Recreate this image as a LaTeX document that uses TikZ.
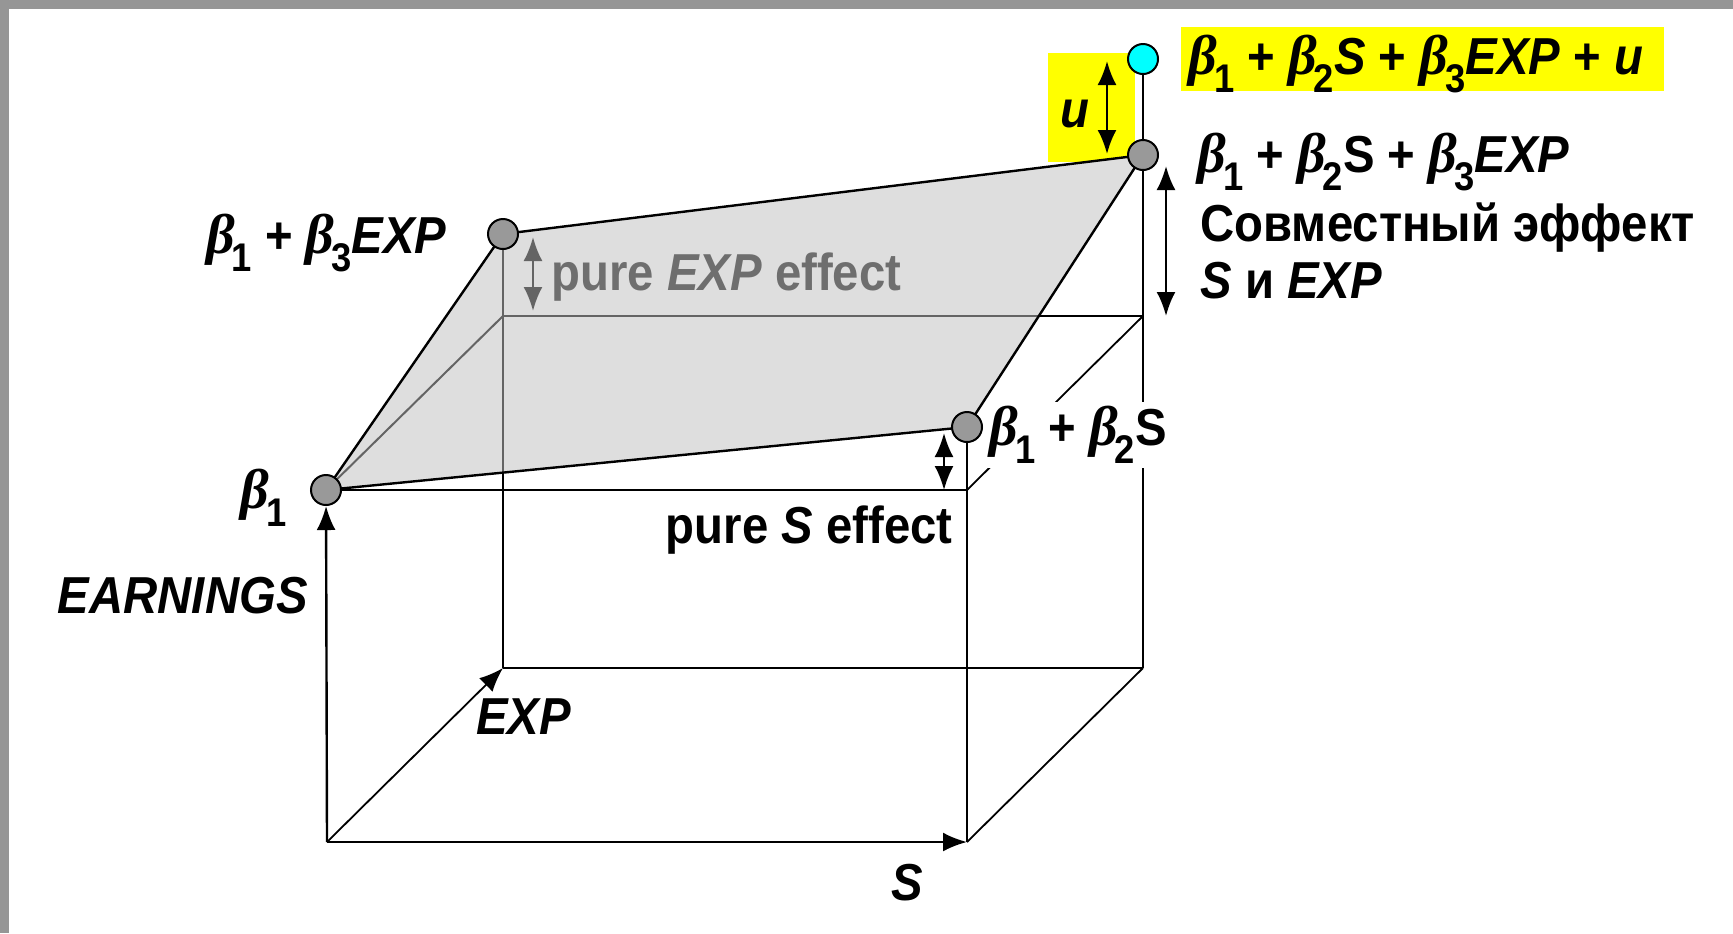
\documentclass[tikz,border=0pt]{standalone}
\usepackage{fontspec}
\setmainfont{Liberation Sans}[FakeStretch=0.91]
\newfontfamily\betafont{Liberation Serif}
\usetikzlibrary{arrows.meta}
\definecolor{bordergray}{RGB}{150,150,150}
\definecolor{planegray}{RGB}{222,222,222}
\definecolor{ptgray}{RGB}{153,153,153}
\definecolor{hidgray}{RGB}{100,100,100}
\definecolor{txtgray}{RGB}{110,110,110}
\definecolor{cyanpt}{RGB}{0,255,255}
\definecolor{yel}{RGB}{255,255,0}
\newcommand\bsym[1]{{\betafont\fontsize{28}{28}\selectfont\itshape\bfseries β}\kern-1.5pt\raisebox{-0.36em}{\fontsize{20}{20}\selectfont #1}}
\tikzset{
  boxline/.style={line width=1.2pt, black},
  diagline/.style={line width=0.9pt, black},
  hidline/.style={line width=1pt, hidgray},
  edgeline/.style={line width=1.2pt, black},
  pt/.style={circle, draw=black, line width=1pt, fill=ptgray, minimum size=15pt, inner sep=0pt},
  ptc/.style={pt, fill=cyanpt},
  lbl/.style={font=\fontsize{26}{30}\selectfont\bfseries, inner sep=0pt},
  dbl/.style={line width=1.2pt, {Latex[length=12pt,width=9.5pt]}-{Latex[length=12pt,width=9.5pt]}},
  axisarrow/.style={line width=1.2pt, -{Latex[length=12pt,width=9.5pt]}}
}
\begin{document}
\begin{tikzpicture}[x=0.5pt,y=-0.5pt]
\useasboundingbox (0,0) rectangle (1733,933);
\fill[white] (0,0) rectangle (1733,933);
\fill[bordergray] (0,0) rectangle (1733,9);
\fill[bordergray] (0,0) rectangle (9,933);

% corners
\coordinate (O) at (327,842);
\coordinate (SX) at (967,842);
\coordinate (EX) at (503,668);
\coordinate (BR) at (1143,668);
\coordinate (FTR) at (967,490);
\coordinate (BTL) at (503,316);
\coordinate (BTR) at (1143,316);
\coordinate (B1) at (326,490);
\coordinate (P2c) at (967,427);
\coordinate (P3c) at (503,234);
\coordinate (P23c) at (1143,155);
\coordinate (PUc) at (1143,59);

% yellow boxes
\fill[yel] (1048,53) rectangle (1135,162);
\fill[yel] (1181,27) rectangle (1664,91);

% box lines
\draw[boxline] (EX) -- (BR);
\draw[boxline] (EX) -- (BTL);
\draw[boxline] (BTL) -- (BTR);
\draw[boxline] (BR) -- (BTR);
\draw[diagline] (B1) -- (BTL);
\draw[diagline] (SX) -- (BR);
\draw[diagline] (FTR) -- (BTR);
\draw[boxline] (B1) -- (FTR);
\draw[boxline] (FTR) -- (SX);
\draw[boxline] (BTR) -- (P23c);
\draw[boxline] (P23c) -- (PUc);
\draw[boxline] (P2c) -- (FTR);

% plane
\fill[planegray] (B1) -- (P2c) -- (P23c) -- (P3c) -- cycle;
\begin{scope}
\clip (B1) -- (P2c) -- (P23c) -- (P3c) -- cycle;
\draw[hidline] (EX) -- (BTL);
\draw[hidline] (BTL) -- (BTR);
\draw[hidline] (B1) -- (BTL);
\draw[hidline] (P3c) -- (BTL);
\end{scope}
\draw[edgeline, line join=round] (B1) -- (P2c) -- (P23c) -- (P3c) -- cycle;

% axes
\draw[axisarrow] (O) -- (SX);
\draw[diagline, -{Latex[length=12pt,width=9.5pt]}] (O) -- (EX);

% effect arrows
\coordinate (ea1) at (533,237); \coordinate (ea2) at (533,311);
\draw[dbl, hidgray] (ea1) -- (ea2);
\coordinate (sa1) at (944,433); \coordinate (sa2) at (944,490);
\draw[dbl] (sa1) -- (sa2);
\coordinate (ua1) at (1107,61); \coordinate (ua2) at (1107,154);
\draw[dbl] (ua1) -- (ua2);
\coordinate (ja1) at (1166,166); \coordinate (ja2) at (1166,316);
\draw[dbl] (ja1) -- (ja2);

% labels
\node[lbl, anchor=base east] (lb3) at (447,253) {\bsym{1} + \bsym{3}\textit{EXP}};
\node[lbl, anchor=base west, text=txtgray] (lpe) at (551,290) {pure \textit{EXP} effect};
\node[lbl, anchor=base west] (lu) at (1188,74) {\bsym{1} + \bsym{2}\textit{S} + \bsym{3}\textit{EXP} + \textit{u}};
\node[lbl, anchor=base] (lsu) at (1075,127) {\textit{u}};
\node[lbl, anchor=base west] (l23) at (1197,172) {\bsym{1} + \bsym{2}S + \bsym{3}\textit{EXP}};
\node[lbl, anchor=base west] (ljo) at (1200,241) {Совместный эффект};
\node[lbl, anchor=base west] (ljo2) at (1200,298) {\textit{S} и \textit{EXP}};
\node[lbl, anchor=base west, fill=white, inner sep=2pt] (l2) at (985,445) {\bsym{1} + \bsym{2}S};
\node[lbl, anchor=base east] (l1) at (287,508) {\bsym{1}};
\node[lbl, anchor=base east] (lps) at (953,543) {pure \textit{S} effect};
\node[lbl, anchor=base east] (lea) at (308,613) {\textit{EARNINGS}};
\node[lbl, anchor=base west] (lex) at (476,734) {\textit{EXP}};
\node[lbl, anchor=base west] (lss) at (891,900) {\textit{S}};

% points
\node[pt] (b1) at (B1) {};
\node[pt] (p2) at (P2c) {};
\node[pt] (p3) at (P3c) {};
\node[pt] (p23) at (P23c) {};
\node[ptc] (pu) at (PUc) {};
\draw[axisarrow] (O) -- (b1);
\end{tikzpicture}
\end{document}
